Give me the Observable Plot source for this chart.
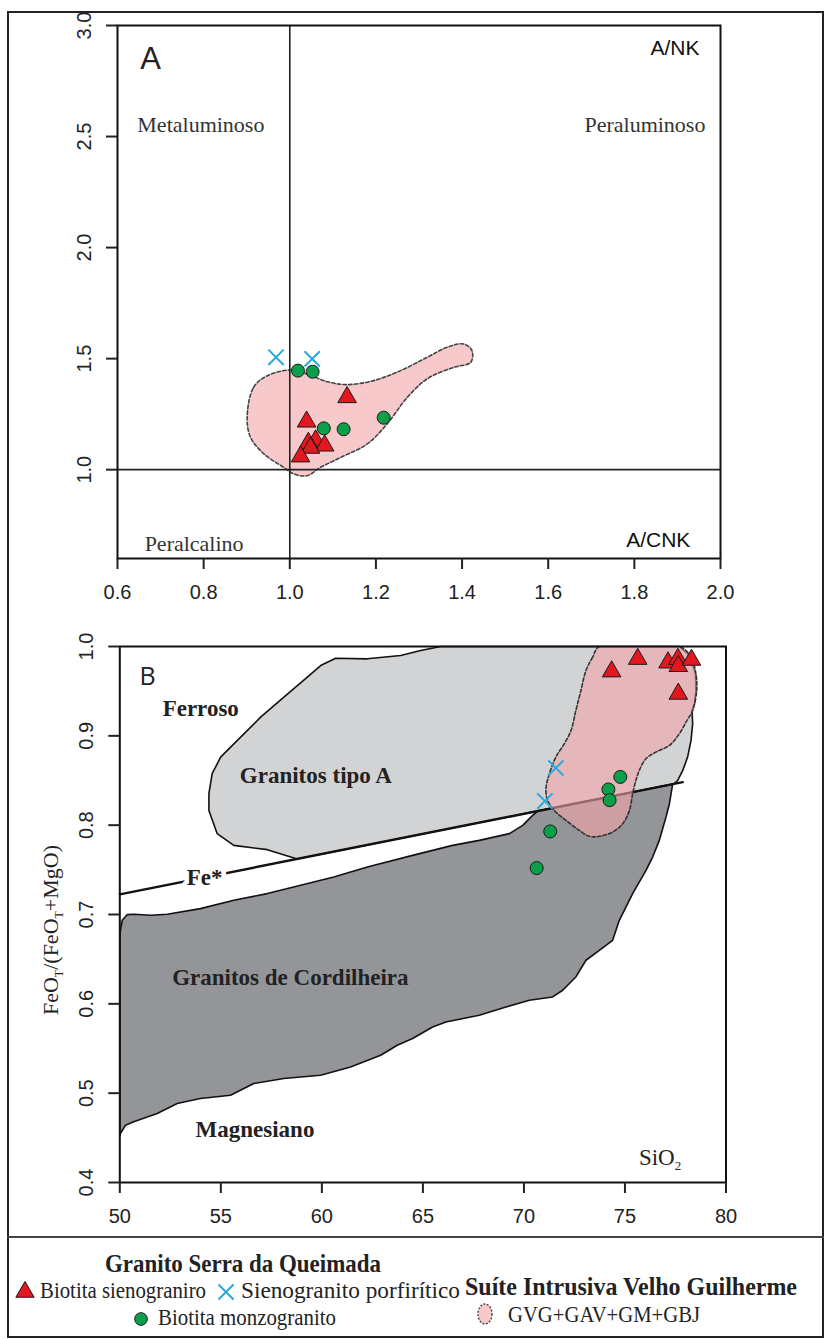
<!DOCTYPE html>
<html>
<head>
<meta charset="utf-8">
<script src="https://cdn.jsdelivr.net/npm/d3@7"></script>
<script src="https://cdn.jsdelivr.net/npm/@observablehq/plot@0.6"></script>
<style>
  html, body { margin: 0; padding: 0; background: #fff; }
  #page { position: relative; width: 824px; height: 1339px; overflow: hidden; background: #fff; }
  #page > * { position: absolute; }
  #frame { left: 7px; top: 11px; width: 813px; height: 1323px; border: 2px solid #222; }
  #sep { left: 7px; top: 1236px; width: 817px; height: 0; border-top: 2px solid #444; }
</style>
</head>
<body>
<div id="page">
  <div id="frame"></div>
  <div id="sep"></div>
</div>
<script>
// ---------- Panel A: A/NK vs A/CNK ----------
const acnkTicks = [0.6, 0.8, 1.0, 1.2, 1.4, 1.6, 1.8, 2.0];
const ankTicks = [1.0, 1.5, 2.0, 2.5, 3.0];

// Biotita sienogranito
const sienoA_acnk = [1.133, 1.039, 1.060, 1.081, 1.043, 1.048, 1.025];
const sienoA_ank  = [1.326, 1.216, 1.131, 1.108, 1.120, 1.098, 1.059];
// Biotita monzogranito
const monzoA_acnk = [1.019, 1.053, 1.079, 1.125, 1.218];
const monzoA_ank  = [1.446, 1.441, 1.186, 1.182, 1.234];
// Sienogranito porfirítico
const porfA_acnk = [0.968, 1.052];
const porfA_ank  = [1.506, 1.499];
// Suíte Intrusiva Velho Guilherme field outline
const suiteA_acnk = [0.901, 0.916, 0.948, 1.002, 1.040, 1.087, 1.133, 1.195, 1.257, 1.319, 1.365, 1.404, 1.423,
                     1.420, 1.381, 1.319, 1.273, 1.226, 1.180, 1.118, 1.071, 1.040, 1.009, 0.986, 0.940, 0.909];
const suiteA_ank  = [1.236, 1.371, 1.423, 1.449, 1.431, 1.396, 1.383, 1.401, 1.446, 1.506, 1.551, 1.566, 1.536,
                     1.483, 1.461, 1.409, 1.326, 1.206, 1.116, 1.055, 1.010, 0.973, 0.981, 1.010, 1.071, 1.145];

// ---------- Panel B: FeOT/(FeOT+MgO) vs SiO2 ----------
const sio2Ticks = [50, 55, 60, 65, 70, 75, 80];
const feTicks = [0.4, 0.5, 0.6, 0.7, 0.8, 0.9, 1.0];

const sienoB_sio2 = [74.34, 75.63, 77.13, 77.62, 77.64, 78.29, 77.64];
const sienoB_fe   = [0.972, 0.986, 0.982, 0.986, 0.978, 0.985, 0.947];
const monzoB_sio2 = [74.77, 74.18, 74.24, 71.30, 70.63];
const monzoB_fe   = [0.854, 0.840, 0.828, 0.793, 0.752];
const porfB_sio2 = [71.58, 71.04];
const porfB_fe   = [0.864, 0.827];

// Fe* boundary (ferroan / magnesian)
const feStar_sio2 = [50, 77.86];
const feStar_fe   = [0.7226, 0.8482];

// A-type granite field
const aType_sio2 = [58.78, 57.30, 55.64, 54.82, 54.41, 54.41, 54.57, 54.99, 55.98, 56.97, 58.12, 59.28, 59.94, 60.68,
                    62.25, 63.90, 64.89, 65.88, 77.69, 78.19, 78.49, 78.51, 78.44, 78.32, 78.35, 78.27, 78.10, 77.86,
                    77.61, 77.44];
const aType_fe   = [0.7622, 0.7726, 0.7774, 0.7905, 0.8165, 0.8352, 0.8576, 0.8762, 0.8985, 0.9209, 0.9433, 0.9657,
                    0.9787, 0.9869, 0.9862, 0.9899, 0.9955, 1.0, 1.0, 0.9899, 0.9695, 0.9508, 0.9359, 0.9284, 0.9135,
                    0.8949, 0.8762, 0.8613, 0.8501, 0.8463];

// Cordilleran granite field
const cord_sio2 = [50.00, 50.03, 50.12, 50.37, 50.69, 51.52, 52.35, 53.99, 55.64, 57.30, 58.95, 60.59, 62.25, 64.49,
                   66.47, 67.79, 69.28, 69.94, 70.43, 70.68, 77.36, 77.20, 77.03, 76.70, 76.37, 76.04, 75.38, 74.72,
                   74.39, 73.73, 73.07, 72.57, 71.92, 71.42, 70.27, 69.11, 67.79, 66.14, 65.48, 64.49, 63.73, 62.91,
                   61.42, 59.94, 58.12, 56.63, 55.48, 53.99, 52.84, 51.85, 50.69, 50.28, 50.03, 50.00];
const cord_fe   = [0.6711, 0.6823, 0.6935, 0.6999, 0.7002, 0.6991, 0.7002, 0.7066, 0.7159, 0.7234, 0.7327, 0.7419,
                   0.7531, 0.7662, 0.7774, 0.7830, 0.7905, 0.7998, 0.8110, 0.8158, 0.8459, 0.8240, 0.8091, 0.7830,
                   0.7643, 0.7494, 0.7234, 0.6935, 0.6711, 0.6599, 0.6488, 0.6301, 0.6152, 0.6077, 0.6040, 0.5965,
                   0.5872, 0.5797, 0.5741, 0.5612, 0.5537, 0.5425, 0.5294, 0.5201, 0.5164, 0.5108, 0.4977, 0.4940,
                   0.4885, 0.4773, 0.4679, 0.4640, 0.4549, 0.4519];

// Suíte Intrusiva Velho Guilherme field in panel B
const suiteB_sio2 = [73.73, 73.40, 73.07, 72.82, 72.57, 72.33, 72.00, 71.58, 71.26, 71.09, 71.17, 71.50, 72.08, 72.74,
                     73.24, 73.73, 74.39, 74.89, 75.22, 75.38, 75.54, 75.71, 76.04, 76.53, 77.20, 77.69, 78.02, 78.35,
                     78.55, 78.51, 78.27, 77.69];
const suiteB_fe   = [1.0, 0.988, 0.9732, 0.9508, 0.9284, 0.906, 0.8912, 0.8762, 0.8576, 0.8408, 0.8277, 0.8165,
                     0.8054, 0.7942, 0.7875, 0.7875, 0.7923, 0.8017, 0.8165, 0.8352, 0.8501, 0.8613, 0.8744, 0.8818,
                     0.8893, 0.9023, 0.9153, 0.9284, 0.9508, 0.9695, 0.988, 1.0];

// Legend entries
const groupTitles = ["Granito Serra da Queimada", "Suíte Intrusiva Velho Guilherme"];
const seriesNames = ["Biotita sienograniro", "Sienogranito porfirítico", "Biotita monzogranito", "GVG+GAV+GM+GBJ"];

// ---------- shared styling ----------
const RED = "#e3171f", GREEN = "#0b9f4a", BLUE = "#2aa8de", PINK = "#f4a5a9";
const SANS = "Liberation Sans, Arial, sans-serif";
const SERIF = "Liberation Serif, Times New Roman, serif";
const rows = (xs, ys) => xs.map((x, i) => ({x, y: ys[i]}));

const triangles = (d) => Plot.dot(d, {x: "x", y: "y", symbol: "triangle", r: 6.9, fill: RED, stroke: "#1a1a1a", strokeWidth: 1});
const circles = (d) => Plot.dot(d, {x: "x", y: "y", symbol: "circle", r: 6.5, fill: GREEN, stroke: "#1a1a1a", strokeWidth: 1});
const crosses = (d) => Plot.dot(d, {x: "x", y: "y", symbol: "times", r: 7, stroke: BLUE, strokeWidth: 2});

const axes = (xt, yt) => [
  Plot.axisX({ticks: xt, tickFormat: d3.format(xt[1] - xt[0] >= 1 ? "d" : ".1f"), tickSize: 11, tickPadding: 15,
              fontSize: 20, strokeWidth: 2, label: null}),
  Plot.axisY({ticks: yt, tickFormat: d3.format(".1f"), tickRotate: -90, tickSize: 11, tickPadding: 16,
              fontSize: 20, strokeWidth: 2, label: null})
];

const page = document.getElementById("page");

// ---------- Panel A ----------
const plotA = Plot.plot({
  width: 824, height: 620,
  marginTop: 25, marginBottom: 62, marginLeft: 117, marginRight: 104,
  style: {fontFamily: SANS, fontSize: "20px", color: "#222", background: "transparent", overflow: "visible"},
  x: {domain: [0.6, 2.0]},
  y: {domain: [0.6, 3.0]},
  marks: [
    Plot.line(rows(suiteA_acnk, suiteA_ank), {x: "x", y: "y", curve: "catmull-rom-closed", fill: PINK, fillOpacity: 0.6,
      stroke: "#444", strokeWidth: 1.6, strokeDasharray: "3.5,2.2"}),
    Plot.ruleX([1.0], {stroke: "#222", strokeWidth: 1.6}),
    Plot.ruleY([1.0], {stroke: "#222", strokeWidth: 1.6}),
    crosses(rows(porfA_acnk, porfA_ank)),
    circles(rows(monzoA_acnk, monzoA_ank)),
    triangles(rows(sienoA_acnk, sienoA_ank)),
    Plot.frame({stroke: "#111", strokeWidth: 2}),
    Plot.text(["A"], {x: 0.677, y: 2.851, fontSize: 31, fontFamily: SANS, fill: "#222"}),
    Plot.text(["A/NK"], {x: 1.951, y: 2.896, textAnchor: "end", fontSize: 21, fontFamily: SANS, fill: "#111"}),
    Plot.text(["A/CNK"], {x: 1.930, y: 0.680, textAnchor: "end", fontSize: 21, fontFamily: SANS, fill: "#111"}),
    Plot.text(["Metaluminoso"], {x: 0.646, y: 2.550, textAnchor: "start", fontSize: 22, fontFamily: SERIF, fill: "#333"}),
    Plot.text(["Peraluminoso"], {x: 1.965, y: 2.550, textAnchor: "end", fontSize: 22, fontFamily: SERIF, fill: "#333"}),
    Plot.text(["Peralcalino"], {x: 0.663, y: 0.667, textAnchor: "start", fontSize: 22, fontFamily: SERIF, fill: "#333"}),
    ...axes(acnkTicks, ankTicks)
  ]
});
plotA.style.left = "0px";
plotA.style.top = "0px";
page.appendChild(plotA);

// ---------- Panel B ----------
const B_TOP = 620;
const plotB = Plot.plot({
  width: 824, height: 616,
  marginTop: 26, marginBottom: 54, marginLeft: 119.3, marginRight: 98.5,
  style: {fontFamily: SANS, fontSize: "20px", color: "#222", background: "transparent", overflow: "visible"},
  x: {domain: [50, 80]},
  y: {domain: [0.4, 1.0]},
  marks: [
    Plot.line(rows(aType_sio2, aType_fe), {x: "x", y: "y", curve: "linear-closed", fill: "#d1d3d4",
      stroke: "#111", strokeWidth: 1.6, strokeLinejoin: "round"}),
    Plot.line(rows(cord_sio2, cord_fe), {x: "x", y: "y", curve: "linear-closed", fill: "#939598",
      stroke: "#111", strokeWidth: 1.6, strokeLinejoin: "round"}),
    Plot.line(rows(feStar_sio2, feStar_fe), {x: "x", y: "y", stroke: "#111", strokeWidth: 2.4}),
    Plot.text(["Fe*"], {x: 54.2, y: 0.7409, fontSize: 23, fontWeight: "bold", fontFamily: SERIF, fill: "#222",
      stroke: "white", strokeWidth: 9}),
    Plot.line(rows(suiteB_sio2, suiteB_fe), {x: "x", y: "y", curve: "catmull-rom-closed", fill: PINK, fillOpacity: 0.6,
      stroke: "#333", strokeWidth: 1.6, strokeDasharray: "3.5,2.2", clip: true}),
    crosses(rows(porfB_sio2, porfB_fe)),
    circles(rows(monzoB_sio2, monzoB_fe)),
    triangles(rows(sienoB_sio2, sienoB_fe)),
    Plot.frame({stroke: "#111", strokeWidth: 2}),
    Plot.text(["B"], {x: 51.37, y: 0.9653, fontSize: 25, fontFamily: "Open Sans, sans-serif", fill: "#222"}),
    Plot.text(["Ferroso"], {x: 52.12, y: 0.930, textAnchor: "start", fontSize: 23, fontWeight: "bold", fontFamily: SERIF, fill: "#222"}),
    Plot.text(["Granitos tipo A"], {x: 55.94, y: 0.856, textAnchor: "start", fontSize: 23, fontWeight: "bold", fontFamily: SERIF, fill: "#222"}),
    Plot.text(["Granitos de Cordilheira"], {x: 52.59, y: 0.629, textAnchor: "start", fontSize: 23, fontWeight: "bold", fontFamily: SERIF, fill: "#222"}),
    Plot.text(["Magnesiano"], {x: 53.75, y: 0.4594, textAnchor: "start", fontSize: 23, fontWeight: "bold", fontFamily: SERIF, fill: "#222"}),
    ...axes(sio2Ticks, feTicks)
  ]
});
plotB.style.left = "0px";
plotB.style.top = B_TOP + "px";
page.appendChild(plotB);

// subscripted labels in panel B: SiO2 inside the frame, y-axis title on the left
{
  const sx = plotB.scale("x"), sy = plotB.scale("y");
  const svg = d3.select(plotB);
  const si = svg.append("text")
    .attr("x", sx.apply(76.76)).attr("y", sy.apply(0.4194))
    .attr("font-family", SERIF).attr("font-size", 23).attr("fill", "#222");
  si.append("tspan").text("SiO");
  si.append("tspan").attr("dy", 5).attr("font-size", 13).text("2");

  const yl = svg.append("text")
    .attr("transform", `translate(58,${(26 + 616 - 54) / 2 + 16}) rotate(-90)`)
    .attr("text-anchor", "middle")
    .attr("font-family", SERIF).attr("font-size", 22).attr("fill", "#222");
  yl.append("tspan").text("FeO");
  yl.append("tspan").attr("dy", 5).attr("font-size", 12).text("T");
  yl.append("tspan").attr("dy", -5).text("/(FeO");
  yl.append("tspan").attr("dy", 5).attr("font-size", 12).text("T");
  yl.append("tspan").attr("dy", -5).text("+MgO)");
}

// ---------- Legend ----------
{
  const svg = d3.select(page).append("svg")
    .attr("width", 824).attr("height", 100)
    .style("left", "0px").style("top", "1237px");

  const txt = (s, x, y, len, opts = {}) => svg.append("text")
    .attr("x", x).attr("y", y)
    .attr("font-family", SERIF).attr("font-size", opts.size || 23)
    .attr("font-weight", opts.bold ? "bold" : "normal")
    .attr("fill", "#222")
    .attr("textLength", len).attr("lengthAdjust", "spacingAndGlyphs")
    .text(s);

  txt(groupTitles[0], 105, 35, 276, {bold: true, size: 25});
  txt(groupTitles[1], 465, 58, 332, {bold: true, size: 25});

  const sym = (type) => d3.symbol(type, type === d3.symbolTriangle ? 145 : type === d3.symbolTimes ? 150 : 125)();
  svg.append("path").attr("d", sym(d3.symbolTriangle)).attr("transform", "translate(25,55)")
    .attr("fill", RED).attr("stroke", "#1a1a1a").attr("stroke-width", 1);
  txt(seriesNames[0], 40, 61, 166);

  svg.append("path").attr("d", sym(d3.symbolTimes)).attr("transform", "translate(226,55)")
    .attr("fill", "none").attr("stroke", BLUE).attr("stroke-width", 2);
  txt(seriesNames[1], 241, 61, 219);

  svg.append("path").attr("d", sym(d3.symbolCircle)).attr("transform", "translate(141,82)")
    .attr("fill", GREEN).attr("stroke", "#1a1a1a").attr("stroke-width", 1);
  txt(seriesNames[2], 158, 88, 178);

  svg.append("ellipse").attr("cx", 485).attr("cy", 77).attr("rx", 7).attr("ry", 10)
    .attr("fill", PINK).attr("fill-opacity", 0.6)
    .attr("stroke", "#444").attr("stroke-width", 1.4).attr("stroke-dasharray", "2,1.5");
  txt(seriesNames[3], 508, 85, 192);
}
</script>
</body>
</html>
